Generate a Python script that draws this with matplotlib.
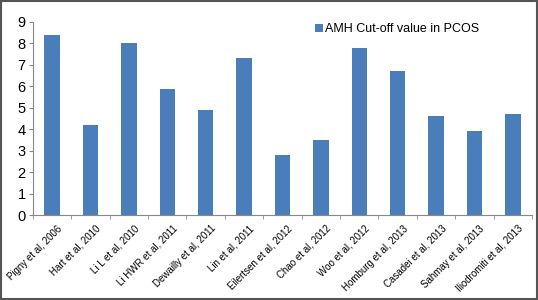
import matplotlib
matplotlib.use("Agg")
import numpy as np
from matplotlib import pyplot as plt
from matplotlib.patches import Rectangle
from matplotlib.transforms import ScaledTranslation

studies = [
    "Pigny et al, 2006", "Hart et al, 2010", "Li L et al, 2010",
    "Li HWR et al, 2011", "Dewailly et al, 2011", "Lin et al, 2011",
    "Eilertsen et al, 2012", "Chao et al, 2012", "Woo et al, 2012",
    "Homburg et al, 2013", "Casadei et al, 2013", "Sahmay et al, 2013",
    "Iliodromiti et al, 2013",
]
cutoff = [8.4, 4.2, 8.0, 5.88, 4.9, 7.3, 2.8, 3.5, 7.8, 6.7, 4.62, 3.93, 4.7]

plt.rcParams["font.family"] = ["Liberation Sans", "DejaVu Sans"]

fig = plt.figure(figsize=(5.38, 3.0), dpi=100)
ax = fig.add_axes([0.061, 0.283, 0.928, 0.644])

x = np.arange(len(studies))
ax.bar(x, cutoff, width=0.4, color="#4a7ebb", label="AMH Cut-off value in PCOS")

ax.set_xlim(-0.5, len(studies) - 0.5)
ax.set_ylim(0, 9)
ax.set_yticks(range(0, 10))
ax.tick_params(axis="y", labelsize=10.5, length=3, color="#888888", pad=2)

ax.set_xticks(x)
ax.set_xticklabels(studies, rotation=45, ha="right", rotation_mode="anchor", fontsize=7)
ax.tick_params(axis="x", length=0, pad=6)
shift = ScaledTranslation(5 / 100, 0, fig.dpi_scale_trans)
for lab in ax.get_xticklabels():
    lab.set_transform(lab.get_transform() + shift)
ax.set_xticks(np.arange(-0.5, len(studies)), minor=True)
ax.tick_params(axis="x", which="minor", length=3, color="#888888")

for s in ["top", "right"]:
    ax.spines[s].set_visible(False)
for s in ["left", "bottom"]:
    ax.spines[s].set_color("#888888")

ax.legend(loc="upper center", bbox_to_anchor=(0.73, 1.05), frameon=False,
          fontsize=9, handlelength=0.6, handleheight=0.6, handletextpad=0.2)

fig.patches.append(Rectangle((0.002, 0.003), 0.996, 0.994, transform=fig.transFigure,
                             fill=False, edgecolor="#555555", linewidth=1.5))

fig.savefig("out.png", dpi=100)
